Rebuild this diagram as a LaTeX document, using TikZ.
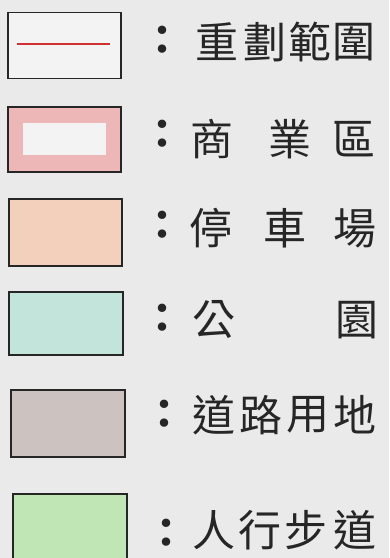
\documentclass[tikz,border=0pt]{standalone}
\usepackage{fontspec}
\newfontfamily\cjk{Noto Sans CJK TC}
\definecolor{paper}{HTML}{EAEAEB}
\definecolor{boxwhite}{HTML}{F3F3F3}
\definecolor{redline}{HTML}{D03030}
\definecolor{pinkfill}{HTML}{EDB6B7}
\definecolor{orangefill}{HTML}{F3D0BB}
\definecolor{tealfill}{HTML}{C3E4DA}
\definecolor{taupefill}{HTML}{CCC3C0}
\definecolor{greenfill}{HTML}{C0E6B6}
\tikzset{
  legbox/.style={draw=black!85, line width=1.5pt, inner sep=0pt, outer sep=0pt,
    minimum width=113pt, minimum height=66pt},
  lbl/.style={font=\cjk\fontsize{43}{43}\selectfont, inner sep=0pt, text=black!85},
  colon/.style={font=\cjk\bfseries\fontsize{40}{40}\selectfont, inner sep=0pt, text=black!85},
}
\begin{document}
\begin{tikzpicture}[x=1pt,y=-1pt]
\useasboundingbox (0,0) rectangle (389,558);
\fill[paper] (0,0) rectangle (389,558);

% boxes
\node[legbox, fill=boxwhite] (b1) at (64.5,45.5) {};
\draw[redline, line width=1.6pt] ([xshift=9pt,yshift=1.5pt]b1.west) coordinate (r1) -- ([xshift=-11pt,yshift=1.5pt]b1.east) coordinate (r2);

\node[legbox, fill=pinkfill, minimum height=65pt] (b2) at (64.5,139.5) {};
\node[fill=boxwhite, inner sep=0pt, minimum width=83pt, minimum height=32pt] (b2in) at (64,139) {};

\node[legbox, fill=orangefill, minimum height=67pt] (b3) at (65.5,232.5) {};
\node[legbox, fill=tealfill, minimum width=114pt, minimum height=63pt] (b4) at (66,323.5) {};
\node[legbox, fill=taupefill, minimum width=114pt, minimum height=67pt] (b5) at (68,423.5) {};
\node[legbox, fill=greenfill, minimum width=114pt, minimum height=68pt] (b6) at (70,528) {};

% colons
\node[colon] (c1) at (162,40) {：};
\node[colon] (c2) at (162,134) {：};
\node[colon] (c3) at (162,225) {：};
\node[colon] (c4) at (162,318) {：};
\node[colon] (c5) at (164,414) {：};
\node[colon] (c6) at (166,533) {：};

% labels
\node[lbl] (t1a) at (217,42) {重};
\node[lbl] (t1b) at (265,42) {劃};
\node[lbl] (t1c) at (310,42) {範};
\node[lbl] (t1d) at (354,42) {圍};

\node[lbl] (t2a) at (212,139) {商};
\node[lbl] (t2b) at (290,139) {業};
\node[lbl] (t2c) at (354,139) {區};

\node[lbl] (t3a) at (211,228) {停};
\node[lbl] (t3b) at (285,228) {車};
\node[lbl] (t3c) at (355,228) {場};

\node[lbl] (t4a) at (214,320) {公};
\node[lbl] (t4b) at (357,320) {園};

\node[lbl] (t5a) at (214,415) {道};
\node[lbl] (t5b) at (261,415) {路};
\node[lbl] (t5c) at (308,415) {用};
\node[lbl] (t5d) at (355,415) {地};

\node[lbl] (t6a) at (214,530) {人};
\node[lbl] (t6b) at (260,530) {行};
\node[lbl] (t6c) at (306,530) {步};
\node[lbl] (t6d) at (355,530) {道};
\end{tikzpicture}
\end{document}
